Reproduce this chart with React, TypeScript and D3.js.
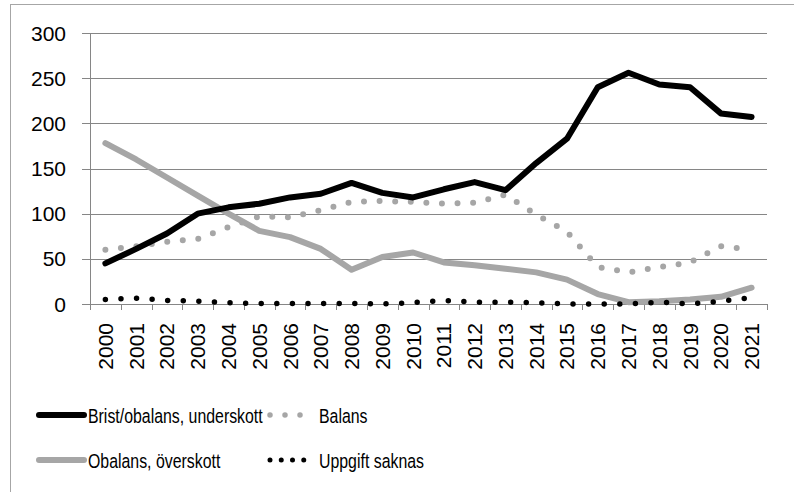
import { useEffect, useRef } from "react";
import { scaleLinear, scaleBand, select, line } from "d3";

const years = ["2000","2001","2002","2003","2004","2005","2006","2007","2008","2009","2010","2011","2012","2013","2014","2015","2016","2017","2018","2019","2020","2021"];
const brist = [45, 61, 78, 100, 107, 111, 118, 122, 134, 123, 118, 127, 135, 126, 156, 183, 240, 256, 243, 240, 211, 207];
const balans = [60, 64, 69, 72, 85, 97, 96, 104, 113, 114, 113, 111, 112, 121, 99, 80, 41, 35, 41, 46, 64, 60];
const obalans = [178, 160, 140, 120, 100, 81, 74, 61, 38, 52, 57, 46, 43, 39, 35, 27, 11, 2, 3, 5, 8, 18];
const uppgift = [5, 6.5, 4, 3, 1.5, 0.5, 0.5, 0.5, 0.5, 0, 1.5, 4, 2, 2, 1.5, 0, 0, 0, 2, 0, 3, 7];
const yTicks = [0, 50, 100, 150, 200, 250, 300];

const seriesNames = ["Brist/obalans, underskott", "Balans", "Obalans, överskott", "Uppgift saknas"];

const width = 794
const height = 492
const font = "'Liberation Sans', Arial, sans-serif"

const App = () => {
  const svgRef = useRef<SVGSVGElement>(null);

  useEffect(() => {
    const svg = select(svgRef.current)
    svg.selectAll("*").remove()

    const x = scaleBand().domain(years).range([90, 767])
    const y = scaleLinear().domain([0, 300]).range([304, 33])
    const cx = (d: string) => (x(d) ?? 0) + x.bandwidth() / 2

    // outer frame, only top/left edges are visible
    svg.append("rect").attr("x", 10.5).attr("y", 4.5).attr("width", 900).attr("height", 600)
      .attr("fill", "none").attr("stroke", "#a6a6a6").attr("stroke-width", 1)

    // gridlines + small ticks left of axis
    svg.append("g").selectAll("line").data(yTicks).join("line")
      .attr("x1", 82).attr("x2", 767)
      .attr("y1", d => Math.round(y(d)) + 0.5).attr("y2", d => Math.round(y(d)) + 0.5)
      .attr("stroke", "#868686").attr("stroke-width", 1)

    svg.append("g").selectAll("text").data(yTicks).join("text")
      .attr("x", 66).attr("y", d => y(d))
      .attr("text-anchor", "end").attr("dominant-baseline", "central")
      .attr("font-family", font).attr("font-size", 21).attr("fill", "#000")
      .text(d => d)

    svg.append("line").attr("x1", 90.5).attr("x2", 90.5).attr("y1", y(300)).attr("y2", y(0))
      .attr("stroke", "#868686")

    const bounds = years.map(d => x(d) ?? 0).concat([767])
    svg.append("g").selectAll("line").data(bounds).join("line")
      .attr("x1", d => Math.round(d) + 0.5).attr("x2", d => Math.round(d) + 0.5)
      .attr("y1", y(0)).attr("y2", y(0) + 6)
      .attr("stroke", "#868686")

    svg.append("g").selectAll("text").data(years).join("text")
      .attr("transform", d => `translate(${cx(d)},${y(0) + 19}) rotate(-90)`)
      .attr("text-anchor", "end").attr("dominant-baseline", "central")
      .attr("font-family", font).attr("font-size", 21).attr("fill", "#000")
      .text(d => d)

    const mk = (vals: number[]) => line<number>().x((_, i) => cx(years[i])).y(d => y(d))(vals)

    svg.append("path").attr("d", mk(balans)).attr("fill", "none")
      .attr("stroke", "#a6a6a6").attr("stroke-width", 6).attr("stroke-linecap", "round")
      .attr("stroke-dasharray", "0 15.6")
    svg.append("path").attr("d", mk(obalans)).attr("fill", "none")
      .attr("stroke", "#a6a6a6").attr("stroke-width", 6).attr("stroke-linejoin", "round").attr("stroke-linecap", "round")
    svg.append("path").attr("d", mk(uppgift)).attr("fill", "none")
      .attr("stroke", "#000").attr("stroke-width", 5.5).attr("stroke-linecap", "round")
      .attr("stroke-dasharray", "0 15.6")
    svg.append("path").attr("d", mk(brist)).attr("fill", "none")
      .attr("stroke", "#000").attr("stroke-width", 6).attr("stroke-linejoin", "round").attr("stroke-linecap", "round")

    // legend
    const legend = [
      { name: seriesNames[0], x: 39, y: 415, color: "#000", dash: null, w: 6 },
      { name: seriesNames[1], x: 270, y: 415, color: "#a6a6a6", dash: "0 15", w: 5.5 },
      { name: seriesNames[2], x: 39, y: 460, color: "#a6a6a6", dash: null, w: 6 },
      { name: seriesNames[3], x: 270, y: 460, color: "#000", dash: "0 11.25", w: 5 },
    ]
    const lg = svg.append("g").selectAll("g").data(legend).join("g")
    lg.append("line")
      .attr("x1", d => d.x).attr("x2", d => d.x + 45).attr("y1", d => d.y).attr("y2", d => d.y)
      .attr("stroke", d => d.color).attr("stroke-width", d => d.w).attr("stroke-linecap", "round")
      .attr("stroke-dasharray", d => d.dash ?? null)
    lg.append("text")
      .attr("transform", d => `translate(${d.x + 49},${d.y + 8}) scale(0.815,1)`)
      .attr("font-family", font).attr("font-size", 19.5).attr("fill", "#000")
      .text(d => d.name)
  }, [])

  return (
    <div style={{ position: "absolute", left: 0, top: 0 }}>
      <svg ref={svgRef} width={width} height={height} viewBox={`0 0 ${width} ${height}`} style={{ display: "block", background: "#fff" }} />
    </div>
  )
}

export default App;
